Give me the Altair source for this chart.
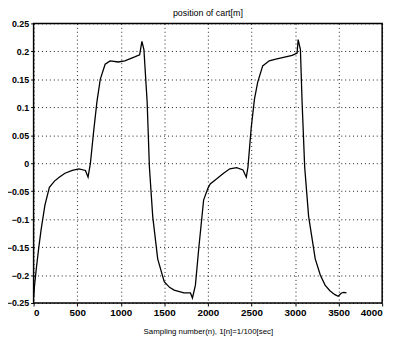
import altair as alt
import pandas as pd

sample_n = [0, 10, 30, 60, 87, 130, 181, 240, 294, 360, 444, 520, 595, 625, 652, 689, 727, 765, 821, 878,
            972, 1047, 1160, 1217, 1243, 1266, 1303, 1329, 1367, 1424, 1499, 1560, 1612, 1725, 1800, 1823,
            1857, 1895, 1951, 2000, 2027, 2102, 2180, 2252, 2330, 2403, 2441, 2460, 2497, 2535, 2572, 2629,
            2704, 2780, 2855, 2968, 3024, 3036, 3062, 3081, 3111, 3156, 3232, 3290, 3345, 3400, 3458, 3495,
            3533, 3560, 3590]
position = [-0.24, -0.22, -0.19, -0.15, -0.118, -0.075, -0.043, -0.032, -0.025, -0.018, -0.013, -0.01,
            -0.013, -0.025, 0.0, 0.057, 0.11, 0.15, 0.177, 0.183,
            0.181, 0.183, 0.19, 0.194, 0.218, 0.203, 0.11, -0.007, -0.095, -0.171, -0.212, -0.222, -0.227,
            -0.232, -0.232, -0.241,
            -0.218, -0.153, -0.066, -0.045, -0.037, -0.028, -0.018, -0.01, -0.008, -0.012, -0.025, -0.007,
            0.063, 0.115, 0.145, 0.174,
            0.183, 0.186, 0.189, 0.193, 0.197, 0.221, 0.203, 0.11, -0.007, -0.095, -0.171, -0.2, -0.218,
            -0.228, -0.235, -0.238,
            -0.232, -0.231, -0.232]

x_ticks = [0, 500, 1000, 1500, 2000, 2500, 3000, 3500, 4000]
y_ticks = [-0.25, -0.2, -0.15, -0.1, -0.05, 0, 0.05, 0.1, 0.15, 0.2, 0.25]

df = pd.DataFrame({"n": sample_n, "pos": position})

chart = alt.Chart(df).mark_line(color="black", strokeWidth=1.3).encode(
    x=alt.X("n:Q", scale=alt.Scale(domain=[0, 4000], nice=False),
            axis=alt.Axis(values=x_ticks, title="Sampling number(n), 1[n]=1/100[sec]",
                          titleFontSize=8, titleFontWeight="normal", titlePadding=10,
                          labelFontSize=10, labelFontWeight="bold", format="d")),
    y=alt.Y("pos:Q", scale=alt.Scale(domain=[-0.25, 0.25], nice=False),
            axis=alt.Axis(values=y_ticks, title=None, labelFontSize=9, labelFontWeight="bold",
                          labelExpr="datum.value == 0 ? '0' : format(datum.value, '.2~f')")),
).properties(
    width=354, height=284,
    title=alt.TitleParams("position of cart[m]", fontSize=9, fontWeight="normal", offset=2),
    padding={"left": 26, "top": 13, "right": 10, "bottom": 40},
    autosize="none",
).configure_view(
    stroke="black", strokeWidth=1.5
).configure_axis(
    grid=True, gridColor="black", gridDash=[1, 3], gridOpacity=0.9, gridWidth=1,
    domain=False, tickColor="black", tickSize=3, labelColor="black", titleColor="black",
    labelFont="Liberation Sans", titleFont="Liberation Sans",
).configure_title(font="Liberation Sans", color="black")

chart.save("out.html", embed_options={"renderer": "svg", "actions": False})
